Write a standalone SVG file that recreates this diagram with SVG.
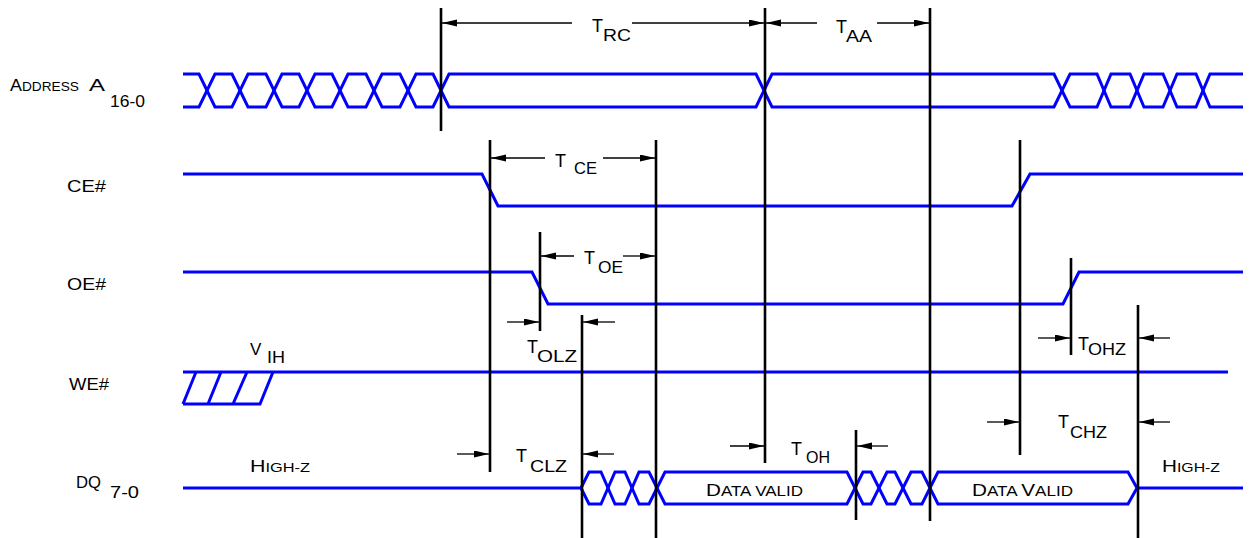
<svg xmlns="http://www.w3.org/2000/svg" width="1249" height="538" viewBox="0 0 1249 538">
<defs>
<marker id="ah" markerUnits="userSpaceOnUse" markerWidth="16" markerHeight="8" refX="15" refY="3.5" orient="auto">
<path d="M0,0 L15,3.5 L0,7 z" fill="#000"/>
</marker>
<style>
.sig{fill:none;stroke:#0000ff;stroke-width:3;stroke-linejoin:miter}
.ext{stroke:#000;stroke-width:2.6}
.dim{stroke:#000;stroke-width:1.3;marker-end:url(#ah)}
text{font-family:"Liberation Sans",Arial,sans-serif;fill:#000}
.lb{font-size:17px}
.sc{font-size:13px}
.sc2{font-size:14px}
.t{font-size:18px}
.s{font-size:17px}
</style>
</defs>
<rect width="1249" height="538" fill="#fff"/>

<g id="address">
<text class="lb" x="10" y="91" textLength="69" lengthAdjust="spacingAndGlyphs">A<tspan class="sc">DDRESS</tspan></text>
<text class="lb" x="89" y="91" textLength="16" lengthAdjust="spacingAndGlyphs">A</text>
<text class="lb" x="110" y="107" textLength="35" lengthAdjust="spacingAndGlyphs">16-0</text>
<path class="sig" d="M183,74 H199 L215,107 H232 L248,74 H266 L282,107 H299 L315,74 H332 L348,107 H366 L382,74 H400 L416,107 H433 L449,74 H756 L772,107 H1054 L1070,74 H1097 L1111,107 H1130 L1144,74 H1163 L1177,107 H1196 L1210,74 H1243"/>
<path class="sig" d="M183,107 H199 L215,74 H232 L248,107 H266 L282,74 H299 L315,107 H332 L348,74 H366 L382,107 H400 L416,74 H433 L449,107 H756 L772,74 H1054 L1070,107 H1097 L1111,74 H1130 L1144,107 H1163 L1177,74 H1196 L1210,107 H1243"/>
</g>

<g id="ce">
<text class="lb" x="67" y="192" textLength="39" lengthAdjust="spacingAndGlyphs">CE#</text>
<path class="sig" d="M183,174 H482 L498,206 H1012 L1030,174 H1243"/>
</g>

<g id="oe">
<text class="lb" x="67" y="290" textLength="39" lengthAdjust="spacingAndGlyphs">OE#</text>
<path class="sig" d="M183,272 H532 L548,304 H1063 L1079,272 H1243"/>
</g>

<g id="we">
<text class="lb" x="69" y="390" textLength="40" lengthAdjust="spacingAndGlyphs">WE#</text>
<text class="lb" x="250" y="355">V</text>
<text class="lb" x="267" y="363" textLength="18" lengthAdjust="spacingAndGlyphs">IH</text>
<path class="sig" d="M183,372 H1228"/>
<path class="sig" d="M183,404 H260 L273,372 M183,404 L196,372 M208,404 L221,372 M233,404 L247,372"/>
</g>

<g id="dq">
<text class="lb" x="76" y="488" textLength="25" lengthAdjust="spacingAndGlyphs">DQ</text>
<text class="lb" x="110" y="498" textLength="29" lengthAdjust="spacingAndGlyphs">7-0</text>
<text class="lb" x="250" y="472" textLength="60" lengthAdjust="spacingAndGlyphs">H<tspan class="sc">IGH-Z</tspan></text>
<text class="lb" x="1162" y="472" textLength="58" lengthAdjust="spacingAndGlyphs">H<tspan class="sc">IGH-Z</tspan></text>
<text class="lb" x="706" y="496" textLength="97" lengthAdjust="spacingAndGlyphs">D<tspan class="sc2">ATA VALID</tspan></text>
<text class="lb" x="972" y="496" textLength="101" lengthAdjust="spacingAndGlyphs">D<tspan class="sc2">ATA </tspan>V<tspan class="sc2">ALID</tspan></text>
<path class="sig" d="M183,488 H581 M1137,488 H1243"/>
<path class="sig" d="M581,488 L589,472 H601 L615,504 H625 L639,472 H649 L665,504 H847 L863,472 H871 L887,504 H895 L911,472 H922 L938,504 H1128 L1137,488"/>
<path class="sig" d="M581,488 L589,504 H601 L615,472 H625 L639,504 H649 L665,472 H847 L863,504 H871 L887,472 H895 L911,504 H922 L938,472 H1128 L1137,488"/>
</g>

<g id="timing-lines">
<line class="ext" x1="441" y1="8" x2="441" y2="131"/>
<line class="ext" x1="765" y1="8" x2="765" y2="463"/>
<line class="ext" x1="930" y1="8" x2="930" y2="521"/>
<line class="ext" x1="490" y1="140" x2="490" y2="472"/>
<line class="ext" x1="656" y1="140" x2="656" y2="538"/>
<line class="ext" x1="540" y1="232" x2="540" y2="331"/>
<line class="ext" x1="582" y1="315" x2="582" y2="538"/>
<line class="ext" x1="856" y1="430" x2="856" y2="520"/>
<line class="ext" x1="1020" y1="140" x2="1020" y2="455"/>
<line class="ext" x1="1071" y1="258" x2="1071" y2="355"/>
<line class="ext" x1="1138" y1="305" x2="1138" y2="538"/>
</g>

<g id="connectors">
<line class="dim" x1="572" y1="23" x2="442" y2="23"/>
<line class="dim" x1="632" y1="23" x2="764" y2="23"/>
<line class="dim" x1="817" y1="23" x2="766" y2="23"/>
<line class="dim" x1="877" y1="23" x2="929" y2="23"/>
<line class="dim" x1="545" y1="158" x2="491" y2="158"/>
<line class="dim" x1="603" y1="158" x2="655" y2="158"/>
<line class="dim" x1="574" y1="256" x2="541" y2="256"/>
<line class="dim" x1="623" y1="256" x2="655" y2="256"/>
<line class="dim" x1="507" y1="322" x2="539" y2="322"/>
<line class="dim" x1="615" y1="322" x2="583" y2="322"/>
<line class="dim" x1="457" y1="454" x2="489" y2="454"/>
<line class="dim" x1="614" y1="454" x2="583" y2="454"/>
<line class="dim" x1="730" y1="446" x2="764" y2="446"/>
<line class="dim" x1="888" y1="446" x2="857" y2="446"/>
<line class="dim" x1="1038" y1="338" x2="1070" y2="338"/>
<line class="dim" x1="1170" y1="338" x2="1139" y2="338"/>
<line class="dim" x1="987" y1="422" x2="1019" y2="422"/>
<line class="dim" x1="1170" y1="422" x2="1139" y2="422"/>
</g>

<g id="timing-labels">
<text class="t" x="592" y="32">T</text>
<text class="s" x="603" y="41" textLength="28" lengthAdjust="spacingAndGlyphs">RC</text>
<text class="t" x="836" y="33">T</text>
<text class="s" x="846" y="42" textLength="26" lengthAdjust="spacingAndGlyphs">AA</text>
<text class="t" x="555" y="167">T</text>
<text class="s" x="574" y="174" textLength="23" lengthAdjust="spacingAndGlyphs">CE</text>
<text class="t" x="584" y="264">T</text>
<text class="s" x="598" y="273" textLength="25" lengthAdjust="spacingAndGlyphs">OE</text>
<text class="t" x="527" y="353">T</text>
<text class="s" x="537" y="362" textLength="40" lengthAdjust="spacingAndGlyphs">OLZ</text>
<text class="t" x="516" y="462">T</text>
<text class="s" x="530" y="472" textLength="37" lengthAdjust="spacingAndGlyphs">CLZ</text>
<text class="t" x="791" y="455">T</text>
<text class="s" x="806" y="463" textLength="24" lengthAdjust="spacingAndGlyphs">OH</text>
<text class="t" x="1078" y="350">T</text>
<text class="s" x="1088" y="355" textLength="38" lengthAdjust="spacingAndGlyphs">OHZ</text>
<text class="t" x="1058" y="428">T</text>
<text class="s" x="1070" y="438" textLength="37" lengthAdjust="spacingAndGlyphs">CHZ</text>
</g>
</svg>
